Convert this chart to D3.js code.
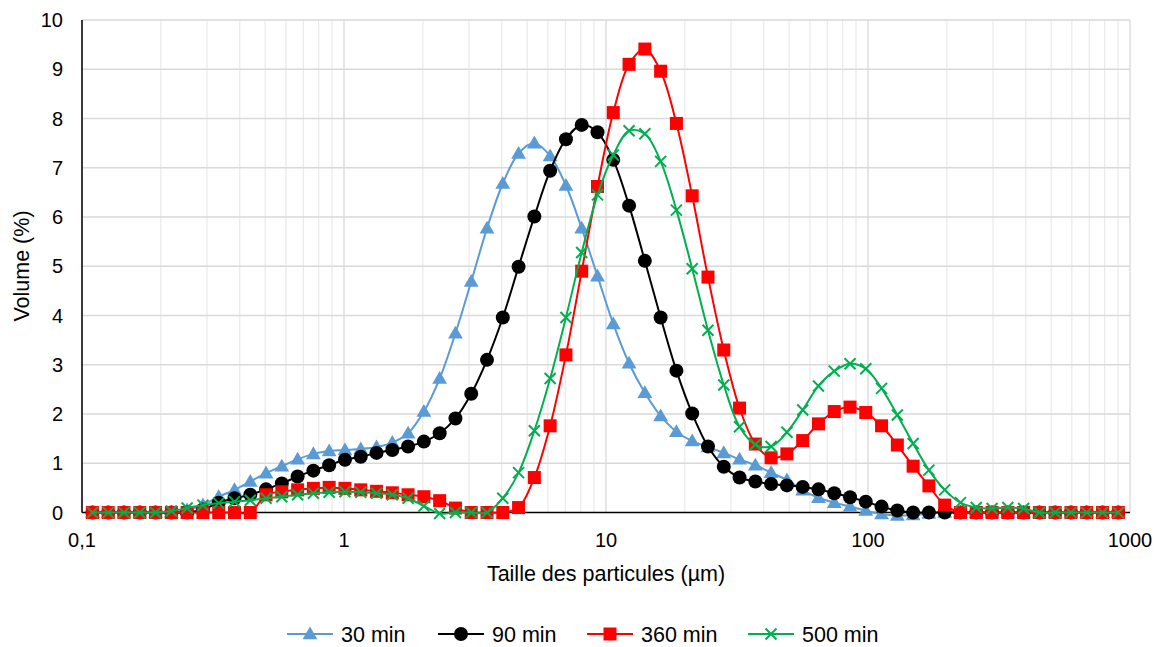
<!DOCTYPE html>
<html>
<head>
<meta charset="utf-8">
<script src="https://cdn.jsdelivr.net/npm/d3@7"></script>
<style>
  html, body { margin: 0; padding: 0; background: #ffffff; }
  svg { display: block; }
  text { font-family: "Liberation Sans", Arial, sans-serif; fill: #000; }
</style>
</head>
<body>
<svg id="chart" width="1164" height="647"></svg>
<script>
// Particle sizes (µm)
const sizes = [0.1096,0.1259,0.1446,0.1662,0.1909,0.2193,0.2519,0.2894,0.3325,0.3820,
  0.4388,0.5040,0.5790,0.6652,0.7641,0.8778,1.0084,1.1585,1.3309,1.5289,
  1.7564,2.0178,2.3180,2.6629,3.0591,3.5143,4.0373,4.6380,5.3281,6.1209,
  7.0317,8.0780,9.2800,10.661,12.247,14.069,16.163,18.568,21.331,24.505,
  28.151,32.340,37.152,42.680,49.031,56.327,64.708,74.336,85.397,98.04,
  112.65,129.42,148.67,170.80,196.21,225.40,258.94,297.47,341.74,392.58,
  451.0,518.1,595.2,683.7,785.5,902.3];

const min30 = [0,0,0,0,0,0,0.05,0.15,0.32,0.46,
  0.63,0.80,0.94,1.08,1.19,1.25,1.27,1.29,1.33,1.42,
  1.61,2.05,2.72,3.64,4.69,5.77,6.68,7.29,7.50,7.24,
  6.64,5.77,4.80,3.83,3.03,2.43,1.96,1.64,1.45,1.33,
  1.21,1.08,0.96,0.81,0.66,0.45,0.30,0.20,0.12,0.04,
  -0.03,-0.06,-0.05,-0.02,0,0,0,0,0,0,
  0,0,0,0,0,0];

const min90 = [0,0,0,0,0,0,0,0.06,0.20,0.29,
  0.36,0.47,0.59,0.73,0.85,0.96,1.07,1.13,1.21,1.27,
  1.34,1.44,1.61,1.91,2.41,3.10,3.96,4.99,6.01,6.94,
  7.58,7.87,7.72,7.16,6.23,5.11,3.96,2.88,2.01,1.34,
  0.93,0.71,0.63,0.58,0.55,0.52,0.47,0.39,0.31,0.22,
  0.12,0.04,0,0,0,0,0,0,0,0,
  0,0,0,0,0,0];

const min360 = [0,0,0,0,0,0,0,0,0,0,
  0,0.36,0.42,0.46,0.49,0.51,0.49,0.46,0.43,0.40,
  0.36,0.32,0.24,0.09,0,0,0,0.10,0.71,1.76,
  3.20,4.90,6.62,8.12,9.10,9.41,8.96,7.90,6.43,4.78,
  3.30,2.12,1.39,1.11,1.19,1.46,1.80,2.05,2.14,2.03,
  1.76,1.37,0.94,0.54,0.15,0,0,0,0,0,
  0,0,0,0,0,0];

const min500 = [0,0,0,0,0,0.03,0.09,0.15,0.19,0.22,
  0.25,0.29,0.32,0.36,0.39,0.41,0.42,0.41,0.39,0.36,
  0.29,0.13,-0.02,0,0,0,0.29,0.81,1.66,2.72,
  3.96,5.28,6.45,7.26,7.75,7.69,7.13,6.14,4.95,3.70,
  2.59,1.74,1.38,1.34,1.63,2.08,2.57,2.87,3.02,2.92,
  2.52,1.98,1.40,0.86,0.46,0.20,0.10,0.08,0.10,0.08,
  0,0,0,0,0,0];

const seriesNames = ["30 min", "90 min", "360 min", "500 min"];
const xTickValues = [0.1, 1, 10, 100, 1000];
const xTickLabels = ["0,1", "1", "10", "100", "1000"];
const yTickValues = [0,1,2,3,4,5,6,7,8,9,10];
const xTitle = "Taille des particules (µm)";
const yTitle = "Volume (%)";

const seriesData = [min30, min90, min360, min500];
const colors = ["#5B9BD5", "#000000", "#FF0000", "#00B050"];
const markers = ["triangle", "circle", "square", "x"];

const svg = d3.select("#chart");
const L = 82, R = 1130, T = 20, B = 512.5;
const x = d3.scaleLog().domain([0.1, 1000]).range([L, R]);
const y = d3.scaleLinear().domain([0, 10]).range([B, T]);

// grid: minor vertical
const minor = [];
for (let d = 0.1; d < 1000; d *= 10) {
  for (let m = 2; m <= 9; m++) minor.push(d * m);
}
svg.append("g").selectAll("line").data(minor).join("line")
  .attr("x1", d => x(d)).attr("x2", d => x(d))
  .attr("y1", T).attr("y2", B)
  .attr("stroke", "#EBEBEB").attr("stroke-width", 1.3);
svg.append("g").selectAll("line").data(xTickValues).join("line")
  .attr("x1", d => x(d)).attr("x2", d => x(d))
  .attr("y1", T).attr("y2", B)
  .attr("stroke", "#D9D9D9").attr("stroke-width", 1.3);
svg.append("g").selectAll("line").data(yTickValues.slice(1)).join("line")
  .attr("x1", L).attr("x2", R)
  .attr("y1", d => y(d)).attr("y2", d => y(d))
  .attr("stroke", "#D9D9D9").attr("stroke-width", 1.3);

// axes lines
svg.append("line").attr("x1", L).attr("x2", L).attr("y1", T).attr("y2", B)
  .attr("stroke", "#000").attr("stroke-width", 1.5);
svg.append("line").attr("x1", L).attr("x2", R).attr("y1", y(0)).attr("y2", y(0))
  .attr("stroke", "#000").attr("stroke-width", 1.5);

// tick labels
const fs = 20;
const fsT = 21.5;
svg.append("g").selectAll("text").data(yTickValues).join("text")
  .attr("x", 63).attr("y", d => y(d)).attr("dy", "0.35em")
  .attr("text-anchor", "end").attr("font-size", fs)
  .text(d => d);
svg.append("g").selectAll("text").data(xTickValues).join("text")
  .attr("x", d => x(d)).attr("y", 547)
  .attr("text-anchor", "middle").attr("font-size", fs)
  .text((d, i) => xTickLabels[i]);

svg.append("text").attr("x", 606).attr("y", 581).attr("text-anchor", "middle")
  .attr("font-size", fsT).text(xTitle);
svg.append("text").attr("transform", "translate(29,266) rotate(-90)")
  .attr("text-anchor", "middle").attr("font-size", fsT).text(yTitle);

function drawMarker(g, type, color, cx, cy) {
  if (type === "triangle") {
    g.append("path").attr("d", d3.symbol(d3.symbolTriangle, 95)())
      .attr("transform", `translate(${cx},${cy + 1})`).attr("fill", color);
  } else if (type === "circle") {
    g.append("circle").attr("cx", cx).attr("cy", cy).attr("r", 7).attr("fill", color);
  } else if (type === "square") {
    g.append("rect").attr("x", cx - 6.5).attr("y", cy - 6.5).attr("width", 13).attr("height", 13)
      .attr("fill", color);
  } else {
    const s = 5.5;
    g.append("path").attr("d", `M${cx - s},${cy - s}L${cx + s},${cy + s}M${cx - s},${cy + s}L${cx + s},${cy - s}`)
      .attr("stroke", color).attr("stroke-width", 2).attr("fill", "none");
  }
}

const line = d3.line().x(d => x(d[0])).y(d => y(d[1])).curve(d3.curveCatmullRom.alpha(0.5));

seriesData.forEach((vals, si) => {
  const pts = sizes.map((s, i) => [s, vals[i]]);
  const g = svg.append("g");
  g.append("path").datum(pts).attr("d", line)
    .attr("fill", "none").attr("stroke", colors[si]).attr("stroke-width", 2);
  pts.forEach(p => drawMarker(g, markers[si], colors[si], x(p[0]), y(p[1])));
});

// legend
const legX = [287, 438, 587, 748];
const legY = 634;
seriesNames.forEach((name, i) => {
  const g = svg.append("g");
  g.append("line").attr("x1", legX[i]).attr("x2", legX[i] + 46)
    .attr("y1", legY).attr("y2", legY).attr("stroke", colors[i]).attr("stroke-width", 2);
  drawMarker(g, markers[i], colors[i], legX[i] + 23, legY);
  g.append("text").attr("x", legX[i] + 54).attr("y", legY).attr("dy", "0.35em")
    .attr("font-size", fsT).text(name);
});
</script>
</body>
</html>
